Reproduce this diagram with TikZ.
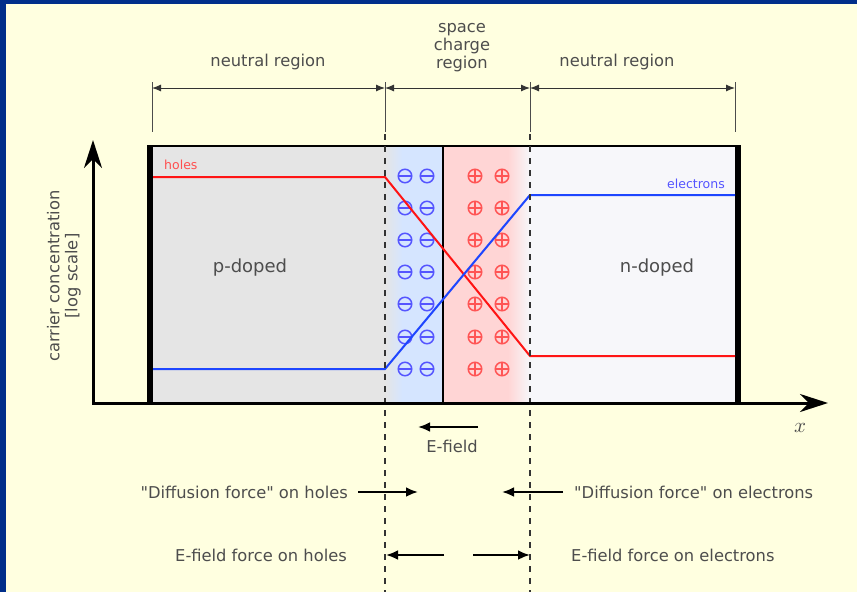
\documentclass[tikz,border=0pt]{standalone}
\usepackage{fontspec}
\setmainfont{DejaVu Sans}[Ligatures=TeXOff]
\usepackage{xcolor}
\usetikzlibrary{arrows.meta, positioning}

\definecolor{frameblue}{RGB}{0,46,138}
\definecolor{cream}{RGB}{255,255,224}
\definecolor{labelgray}{RGB}{77,77,77}
\definecolor{pfill}{RGB}{229,229,229}
\definecolor{nfill}{RGB}{247,247,250}
\definecolor{negfill}{RGB}{213,229,255}
\definecolor{posfill}{RGB}{255,213,213}
\definecolor{holered}{RGB}{255,20,20}
\definecolor{elecblue}{RGB}{30,70,255}
\definecolor{negcol}{RGB}{85,85,255}
\definecolor{poscol}{RGB}{255,85,85}

\begin{document}
\begin{tikzpicture}[x=1pt, y=-1pt,
    lbl/.style={text=labelgray, font=\fontsize{16.3}{18}\selectfont, align=center, inner sep=0pt},
    big/.style={text=labelgray, font=\fontsize{18}{20}\selectfont, inner sep=0pt},
    tiny/.style={font=\fontsize{12.5}{14}\selectfont, inner sep=0pt},
    dim/.style={{Latex[length=9pt,width=7pt]}-{Latex[length=9pt,width=7pt]}, draw=black!80, line width=1pt},
    tick/.style={draw=black!70, line width=1pt},
    guide/.style={draw=black!80, line width=1.2pt, dash pattern=on 6pt off 6pt},
    axis/.style={{Stealth[length=28pt,width=18pt,inset=9pt]}-{Stealth[length=28pt,width=18pt,inset=9pt]}, line width=3pt, line join=miter},
    arr/.style={-{Latex[length=12pt,width=10pt]}, line width=2.4pt},
    carrier/.style={line width=2pt},
    negcharge/.style={circle, draw=negcol, line width=1.5pt, minimum size=13.5pt, inner sep=0pt,
      path picture={\draw[negcol, line width=1.5pt] (path picture bounding box.west) -- (path picture bounding box.east);}},
    poscharge/.style={circle, draw=poscol, line width=1.5pt, minimum size=13.5pt, inner sep=0pt,
      path picture={\draw[poscol, line width=1.5pt] (path picture bounding box.west) -- (path picture bounding box.east)
        (path picture bounding box.north) -- (path picture bounding box.south);}}
  ]
  \useasboundingbox (0,0) rectangle (857,592);
  \fill[cream] (0,0) rectangle (857,592);
  \fill[frameblue] (0,0) rectangle (6,592);
  \fill[frameblue] (0,0) rectangle (857,4);

  \fill[pfill] (153,147) rectangle (385,402);
  \shade[left color=pfill, right color=negfill] (385,147) rectangle (402,402);
  \fill[negfill] (402,147) rectangle (443,402);
  \fill[posfill] (443,147) rectangle (508,402);
  \shade[left color=posfill, right color=nfill] (508,147) rectangle (530,402);
  \fill[nfill] (530,147) rectangle (735,402);
  \draw[line width=2pt] (147,146) -- (741,146);
  \fill (147,145) rectangle (153,403);
  \fill (735,145) rectangle (741,403);
  \draw[line width=1.6pt] (443,146) -- (443,403);

  \foreach \y [count=\k] in {176,208,240,272,304,337,369} {
    \node[negcharge] (m1-\k) at (405,\y) {};
    \node[negcharge] (m2-\k) at (427,\y) {};
    \node[poscharge] (p1-\k) at (475,\y) {};
    \node[poscharge] (p2-\k) at (502,\y) {};
  }

  \draw[carrier, holered] (153,177) -- (385,177) -- (530,356) -- (735,356);
  \draw[carrier, elecblue] (153,369) -- (385,369) -- (530,195) -- (735,195);
  \node[tiny, text=holered!75, anchor=west] (holes) at (164,165) {holes};
  \node[tiny, text=negcol, anchor=east] (elec) at (725,184) {electrons};

  \draw[guide] (385,134) -- (385,592);
  \draw[guide] (530,134) -- (530,592);

  \coordinate (ytip) at (93,140);
  \coordinate (origin) at (93,403);
  \coordinate (xtip) at (828,403);
  \draw[axis] (ytip) -- (origin) -- (xtip);
  \node[lbl, rotate=90] (ylab) at (64,276) {carrier concentration\\{[log scale]}};
  \node[text=labelgray, scale=2.1, inner sep=0pt] (xlab) at (800,428) {$x$};

  \foreach \x [count=\k] in {152,385,530,735} {
    \draw[tick] (\x,82) -- (\x,132);
    \coordinate (t\k) at (\x,88);
  }
  \draw[dim] (t1) -- (t2);
  \draw[dim] (t2) -- (t3);
  \draw[dim] (t3) -- (t4);
  \node[lbl] (nl1) at (268,62) {neutral region};
  \node[lbl] (scr) at (462,48) {space\\charge\\region};
  \node[lbl] (nl2) at (617,62) {neutral region};

  \node[big] (pdop) at (250,268) {p-doped};
  \node[big] (ndop) at (657,268) {n-doped};

  \coordinate (ef1) at (478,427);
  \coordinate (ef2) at (418,427);
  \draw[arr] (ef1) -- (ef2);
  \node[lbl] (efl) at (452,446) {E-field};

  \node[lbl, anchor=east] (dh) at (348,492) {"Diffusion force" on holes};
  \node[lbl, anchor=west] (de) at (574,492) {"Diffusion force" on electrons};
  \coordinate (dh1) at (358,492);
  \coordinate (dh2) at (418,492);
  \coordinate (de1) at (563,492);
  \coordinate (de2) at (502,492);
  \draw[arr] (dh1) -- (dh2);
  \draw[arr] (de1) -- (de2);

  \node[lbl, anchor=east] (fh) at (347,555) {E-field force on holes};
  \node[lbl, anchor=west] (fe) at (571,555) {E-field force on electrons};
  \coordinate (fh1) at (444,555);
  \coordinate (fh2) at (386,555);
  \coordinate (fe1) at (473,555);
  \coordinate (fe2) at (530,555);
  \draw[arr] (fh1) -- (fh2);
  \draw[arr] (fe1) -- (fe2);
\end{tikzpicture}
\end{document}
